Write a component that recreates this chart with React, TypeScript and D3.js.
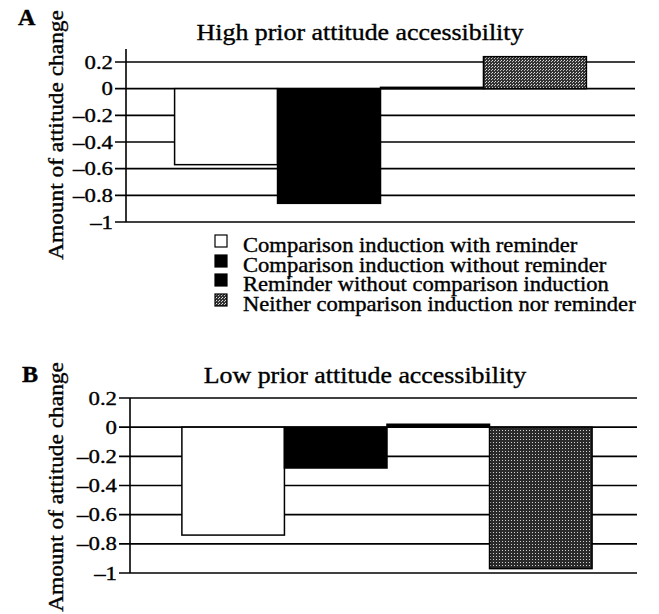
import React from "react";
import * as d3 from "d3";

const categories = [
  "Comparison induction with reminder",
  "Comparison induction without reminder",
  "Reminder without comparison induction",
  "Neither comparison induction nor reminder",
];
const highValues = [-0.57, -0.86, 0.01, 0.24];
const lowValues = [-0.74, -0.28, 0.02, -0.97];
const tickValues = [0.2, 0, -0.2, -0.4, -0.6, -0.8, -1];
const tickLabels = ["0.2", "0", "–0.2", "–0.4", "–0.6", "–0.8", "–1"];
const fills = ["#ffffff", "#000000", "#000000", "url(#grayA)"];

const FONT = "'Liberation Serif', 'Times New Roman', serif";

type TProps = {
  x: number;
  y: number;
  size: number;
  sx?: number;
  rotate?: number;
  anchor?: "start" | "middle" | "end";
  bold?: boolean;
  dy?: string;
  children: React.ReactNode;
};

function T({ x, y, size, sx = 1.15, rotate = 0, anchor = "start", bold, dy, children }: TProps) {
  return (
    <text
      transform={`translate(${x},${y}) rotate(${rotate}) scale(${sx},1)`}
      fontFamily={FONT}
      fontSize={size}
      fontWeight={bold ? "bold" : "normal"}
      textAnchor={anchor}
      dy={dy}
      fill="#000"
      stroke="#000"
      strokeWidth={0.35}
    >
      {children}
    </text>
  );
}

type PanelProps = {
  letter: string;
  letterX: number;
  letterY: number;
  title: string;
  titleX: number;
  titleY: number;
  values: number[];
  yTop: number;
  yBottom: number;
  axisTop: number;
  xLeft: number;
  xRight: number;
  align: number;
  labelY: number;
  gray: string;
};

function Panel(p: PanelProps) {
  const y = d3.scaleLinear().domain([-1, 0.2]).range([p.yBottom, p.yTop]);
  const x = d3
    .scaleBand<string>()
    .domain(categories)
    .range([p.xLeft, p.xRight])
    .paddingInner(0)
    .paddingOuter(0.472)
    .align(p.align);
  return (
    <g>
      <T x={p.letterX} y={p.letterY} size={23} sx={1.05} bold>
        {p.letter}
      </T>
      <T x={p.titleX} y={p.titleY} size={22.5} sx={1.15} anchor="middle">
        {p.title}
      </T>
      <T x={63} y={p.labelY} size={20.5} sx={1.14} rotate={-90} anchor="middle">
        Amount of attitude change
      </T>
      {tickValues.map((t, i) => (
        <g key={i}>
          <line
            x1={p.xLeft - 11}
            x2={p.xRight}
            y1={y(t)}
            y2={y(t)}
            stroke="#000"
            strokeWidth={1.6}
          />
          <T x={p.xLeft - 13} y={y(t)} dy="0.34em" size={19.5} sx={1.17} anchor="end">
            {tickLabels[i]}
          </T>
        </g>
      ))}
      <line
        x1={p.xLeft}
        x2={p.xLeft}
        y1={p.axisTop}
        y2={y(-1)}
        stroke="#000"
        strokeWidth={1.6}
      />
      {categories.map((c, i) => {
        const v = p.values[i];
        const y0 = y(0);
        const y1 = y(v);
        const fill = i === 3 ? p.gray : fills[i];
        return (
          <rect
            key={c}
            x={x(c)}
            width={x.bandwidth()}
            y={Math.min(y0, y1)}
            height={Math.max(Math.abs(y1 - y0), 0.5)}
            fill={fill}
            stroke="#000"
            strokeWidth={1.5}
          />
        );
      })}
    </g>
  );
}

export default function App() {
  const legendY = [246, 266, 285, 305];
  return (
    <svg
      width={659}
      height={614}
      style={{ position: "absolute", left: 0, top: 0, background: "#fff" }}
    >
      <defs>
        <pattern id="grayA" width={3} height={3} patternUnits="userSpaceOnUse">
          <rect width={3} height={3} fill="#333333" />
          <rect x={0} y={0} width={1} height={1} fill="#e0e0e0" />
          <rect x={2} y={1} width={1} height={1} fill="#c0c0c0" />
        </pattern>
        <pattern id="grayB" width={3} height={3} patternUnits="userSpaceOnUse">
          <rect width={3} height={3} fill="#2a2a2a" />
          <rect x={1} y={1} width={1} height={1} fill="#d0d0d0" />
        </pattern>
      </defs>
      <rect width={659} height={614} fill="#fff" />
      <Panel
        letter="A"
        letterX={18}
        letterY={25}
        title="High prior attitude accessibility"
        titleX={360}
        titleY={40}
        values={highValues}
        yTop={62}
        yBottom={222}
        axisTop={49}
        xLeft={126}
        xRight={635}
        align={0.5}
        labelY={135}
        gray="url(#grayA)"
      />
      <Panel
        letter="B"
        letterX={22}
        letterY={382}
        title="Low prior attitude accessibility"
        titleX={365}
        titleY={383}
        values={lowValues}
        yTop={398}
        yBottom={573}
        axisTop={398}
        xLeft={130}
        xRight={637}
        align={0.536}
        labelY={487}
        gray="url(#grayB)"
      />
      {categories.map((c, i) => (
        <g key={c}>
          <rect
            x={215}
            y={legendY[i] - 11}
            width={12}
            height={12}
            fill={i === 3 ? "url(#grayA)" : fills[i]}
            stroke="#000"
            strokeWidth={1.2}
          />
          <T x={243} y={legendY[i] + 6} size={20} sx={1.13}>
            {c}
          </T>
        </g>
      ))}
    </svg>
  );
}
